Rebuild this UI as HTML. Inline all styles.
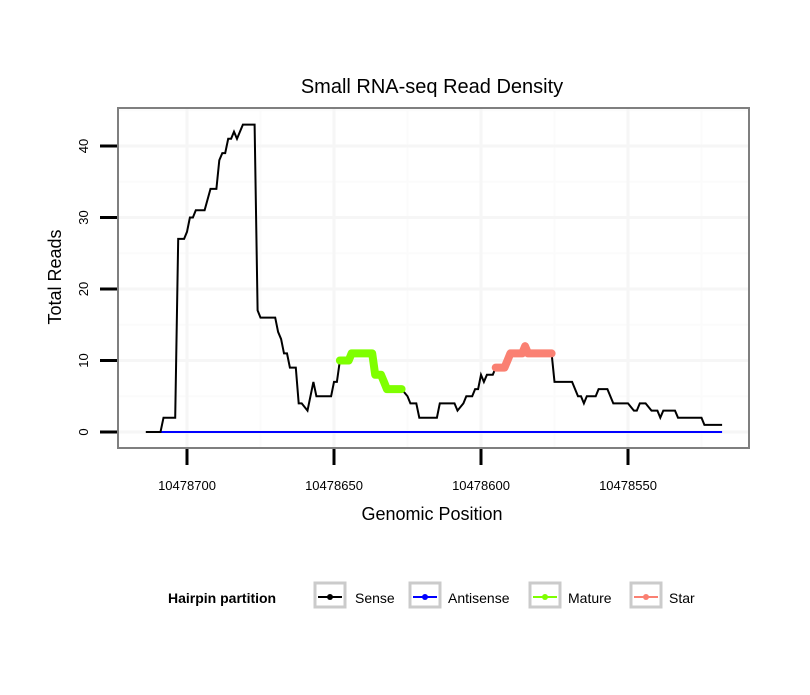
<!DOCTYPE html>
<html><head><meta charset="utf-8"><style>
body{margin:0;background:#fff;font-family:"Liberation Sans",sans-serif}
svg text{font-family:"Liberation Sans",sans-serif}
</style></head><body>
<svg width="810" height="690" viewBox="0 0 810 690" xmlns="http://www.w3.org/2000/svg">
<defs><clipPath id="pc"><rect x="118" y="108" width="631" height="340"/></clipPath></defs>
<rect width="810" height="690" fill="#fff"/>
<text x="432" y="93" text-anchor="middle" font-size="20" fill="#000">Small RNA-seq Read Density</text>
<g id="grid"></g>
<g id="series" clip-path="url(#pc)"></g>
<rect x="118" y="108" width="631" height="340" fill="none" stroke="#7f7f7f" stroke-width="2"/>
<g id="axes"></g>
<text x="432" y="520" text-anchor="middle" font-size="18">Genomic Position</text>
<text transform="translate(61,277) rotate(-90)" text-anchor="middle" font-size="18">Total Reads</text>
<g>
<text x="168" y="603" font-size="14" font-weight="bold">Hairpin partition</text>
<g><rect x="315" y="583" width="30" height="24" fill="#fff" stroke="#cbcbcb" stroke-width="3"/><line x1="318" y1="597" x2="342" y2="597" stroke="#000" stroke-width="2"/><circle cx="330" cy="597" r="3" fill="#000"/><text x="355" y="603" font-size="14">Sense</text></g>
<g><rect x="410" y="583" width="30" height="24" fill="#fff" stroke="#cbcbcb" stroke-width="3"/><line x1="413" y1="597" x2="437" y2="597" stroke="#0000ff" stroke-width="2"/><circle cx="425" cy="597" r="3" fill="#0000ff"/><text x="448" y="603" font-size="14">Antisense</text></g>
<g><rect x="530" y="583" width="30" height="24" fill="#fff" stroke="#cbcbcb" stroke-width="3"/><line x1="533" y1="597" x2="557" y2="597" stroke="#7fff00" stroke-width="2"/><circle cx="545" cy="597" r="3" fill="#7fff00"/><text x="568" y="603" font-size="14">Mature</text></g>
<g><rect x="631" y="583" width="30" height="24" fill="#fff" stroke="#cbcbcb" stroke-width="3"/><line x1="634" y1="597" x2="658" y2="597" stroke="#fa8072" stroke-width="2"/><circle cx="646" cy="597" r="3" fill="#fa8072"/><text x="669" y="603" font-size="14">Star</text></g>
</g>
</svg>
<script>
const base = 10478700;
const offsets = [-14,-9,-8,-4,-3,-1,0,1,2,3,6,8,10,11,12,13,14,15,16,17,19,23,24,25,30,31,32,33,34,35,37,38,39,41,43,44,49,50,51,52,55,56,63,64,66,67,68,73,75,76,78,79,85,86,91,92,94,95,96,97,98,99,100,101,102,104,105,108,109,110,114,115,116,124,125,131,133,134,135,136,139,140,143,145,150,152,153,154,156,158,160,161,162,166,167,175,176,182];
const senseValues = [0,0,2,2,27,27,28,30,30,31,31,34,34,38,39,39,41,41,42,41,43,43,17,16,16,14,13,11,11,9,9,4,4,3,7,5,5,7,7,10,10,11,11,8,8,7,6,6,5,4,4,2,2,4,4,3,4,5,5,5,6,6,8,7,8,8,9,9,10,11,11,12,11,11,7,7,5,5,4,5,5,6,6,4,4,3,3,4,4,3,3,2,3,3,2,2,1,1];
const matureRange = [52,73];
const starRange = [105,124];
const xTicks = [10478700,10478650,10478600,10478550];
const yTicks = [0,10,20,30,40];
const NS='http://www.w3.org/2000/svg';
const positions = offsets.map(o=>base-o);
const X = p => 187 + (base - p)*2.94;
const Y = v => 432 - v*7.15;
function mk(tag, attrs, parent){const e=document.createElementNS(NS,tag);for(const k in attrs)e.setAttribute(k,attrs[k]);parent.appendChild(e);return e;}
const grid=document.getElementById('grid'), series=document.getElementById('series'), axes=document.getElementById('axes');
mk('rect',{x:118,y:108,width:631,height:340,fill:'#fff'},grid);
for(let i=-1;i<xTicks.length;i++){const p=xTicks[0]-25-50*i;const x=X(p);if(x>118&&x<749){const l=mk('line',{x1:x,x2:x,y1:108,y2:448,stroke:'#fbfbfb','stroke-width':2},grid);}}
for(let v=-5;v<=45;v+=10){const y=Y(v);if(y>108&&y<448){const l=mk('line',{x1:118,x2:749,y1:y,y2:y,stroke:'#fbfbfb','stroke-width':2},grid);}}
xTicks.forEach(t=>{const x=X(t);const l=mk('line',{x1:x,x2:x,y1:108,y2:448,stroke:'#f6f6f6','stroke-width':3},grid);
const tk=mk('line',{x1:x,x2:x,y1:449,y2:465,stroke:'#000','stroke-width':3},axes);
const tx=mk('text',{x:x,y:490,'text-anchor':'middle','font-size':13},axes);tx.textContent=t;});
yTicks.forEach(t=>{const y=Y(t);const l=mk('line',{x1:118,x2:749,y1:y,y2:y,stroke:'#f6f6f6','stroke-width':3},grid);
const tk=mk('line',{x1:100,x2:117,y1:y,y2:y,stroke:'#000','stroke-width':3},axes);
const tx=mk('text',{transform:`translate(88,${y}) rotate(-90)`,'text-anchor':'middle','font-size':13},axes);tx.textContent=t;});
const anti=mk('line',{x1:X(positions[1]),x2:X(positions[positions.length-1]),y1:Y(0),y2:Y(0),stroke:'#0000ff','stroke-width':2},series);


const pts=positions.map((p,i)=>X(p).toFixed(1)+','+Y(senseValues[i]).toFixed(1)).join(' ');
const sense=mk('polyline',{points:pts,fill:'none',stroke:'#000','stroke-width':2,'stroke-linejoin':'miter'},series);


function seg(range,color,name){const p=[];offsets.forEach((o,i)=>{if(o>=range[0]&&o<=range[1])p.push(X(positions[i]).toFixed(1)+','+Y(senseValues[i]).toFixed(1));});
const e=mk('polyline',{points:p.join(' '),fill:'none',stroke:color,'stroke-width':8,'stroke-linecap':'round','stroke-linejoin':'round'},series);

}
seg(matureRange,'#7fff00','mature-series');
seg(starRange,'#fa8072','star-series');
</script>
</body></html>
